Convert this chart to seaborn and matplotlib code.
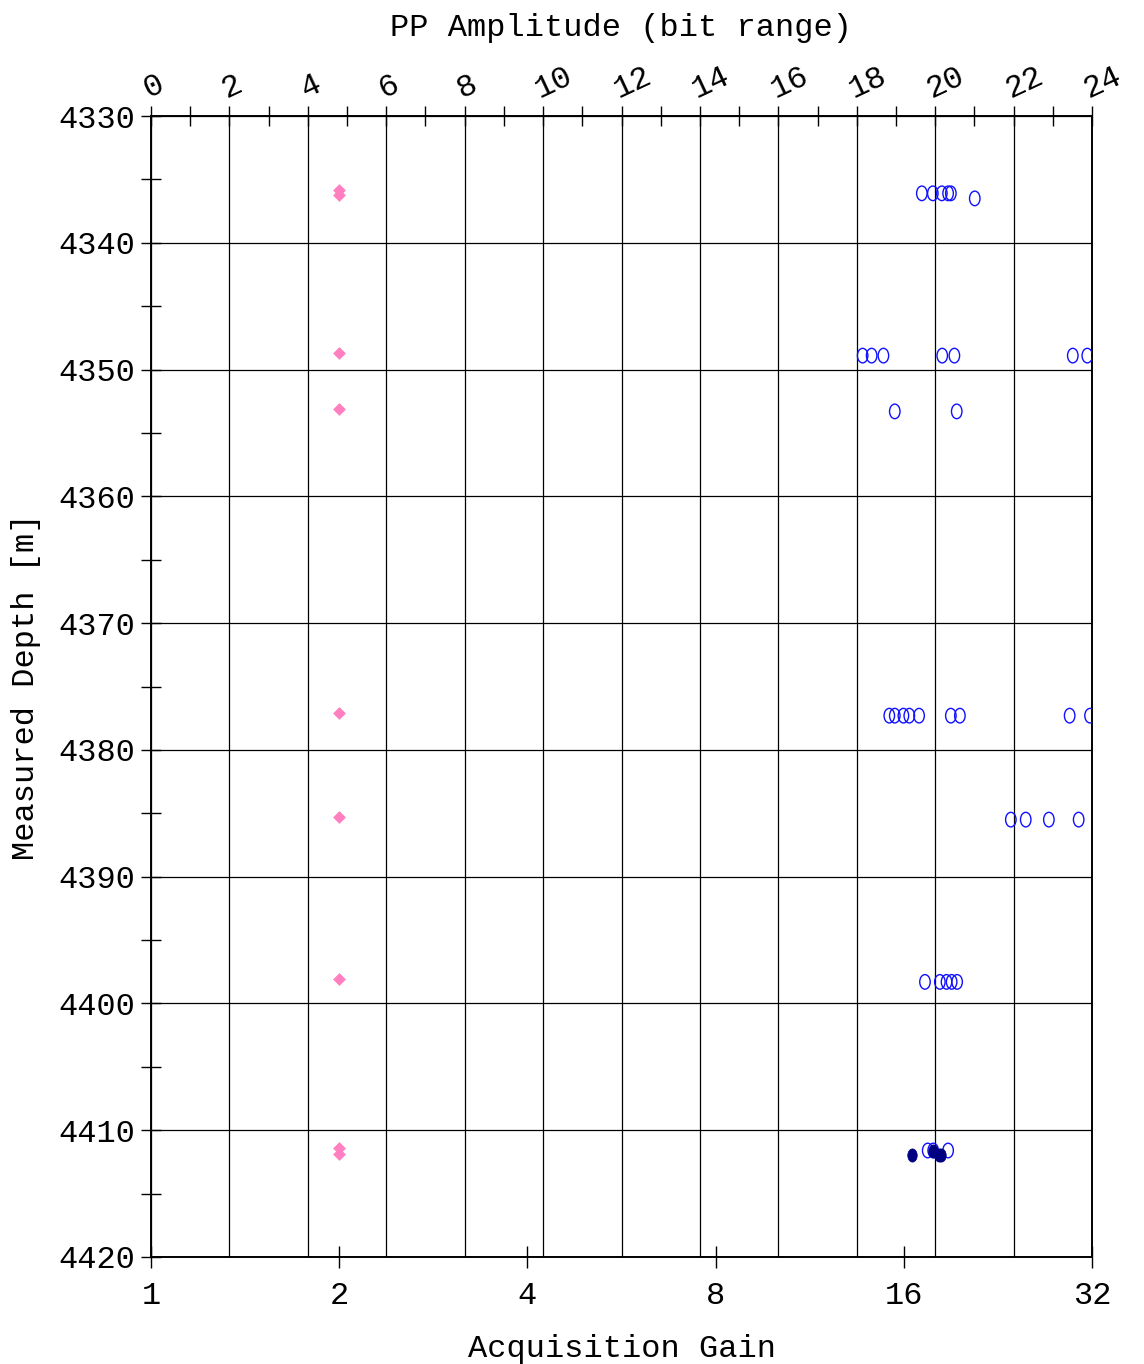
import numpy as np
import pandas as pd
import matplotlib
matplotlib.use("Agg")
import matplotlib.pyplot as plt
from matplotlib.path import Path
from matplotlib.ticker import MultipleLocator, FixedLocator, FixedFormatter
import seaborn as sns

# Acquisition gain per station (bottom axis, log2)
gain_depth = [4335.8, 4336.2, 4348.7, 4353.1, 4377.1, 4385.3, 4398.1, 4411.4, 4411.9]
gain_value = [2, 2, 2, 2, 2, 2, 2, 2, 2]

# PP amplitude of individual shots (top axis)
amp_depth = [4336.1, 4336.1, 4336.1, 4336.1, 4336.1, 4336.5,
             4348.9, 4348.9, 4348.9, 4348.9, 4348.9, 4348.9, 4348.9,
             4353.3, 4353.3,
             4377.3, 4377.3, 4377.3, 4377.3, 4377.3, 4377.3, 4377.3, 4377.3, 4377.3,
             4385.5, 4385.5, 4385.5, 4385.5,
             4398.3, 4398.3, 4398.3, 4398.3, 4398.3,
             4411.6, 4411.6, 4411.6]
amp_value = [19.66, 19.94, 20.17, 20.33, 20.40, 21.01,
             18.15, 18.38, 18.68, 20.18, 20.49, 23.51, 23.88,
             18.97, 20.55,
             18.83, 18.97, 19.19, 19.34, 19.59, 20.40, 20.63, 23.43, 23.95,
             21.93, 22.31, 22.90, 23.66,
             19.74, 20.12, 20.29, 20.42, 20.56,
             19.81, 19.95, 20.33]

# Stacked / selected amplitudes
sel_depth = [4411.95, 4411.65, 4411.95, 4411.95]
sel_value = [19.40, 19.95, 20.10, 20.15]

gain_ticks = [1, 2, 4, 8, 16, 32]
depth_ticks = list(range(4330, 4421, 10))

df_gain = pd.DataFrame({"gain": gain_value, "depth": gain_depth})
df_amp = pd.DataFrame({"amp": amp_value, "depth": amp_depth})
df_sel = pd.DataFrame({"amp": sel_value, "depth": sel_depth})

sns.set_theme(style="white")
plt.rcParams["font.family"] = ["Liberation Mono", "DejaVu Sans Mono"]
plt.rcParams["axes.edgecolor"] = "black"
plt.rcParams["axes.labelcolor"] = "black"
plt.rcParams["text.color"] = "black"
plt.rcParams["xtick.color"] = "black"
plt.rcParams["ytick.color"] = "black"
plt.rcParams["axes.linewidth"] = 1.2

# Tall ellipse marker
circ = Path.unit_circle()
ellipse = Path(circ.vertices * np.array([0.72, 1.0]), circ.codes)

fig = plt.figure(figsize=(11.44, 13.64), dpi=100)
ax = fig.add_axes([151 / 1144, 1 - 1257 / 1364, (1092 - 151) / 1144, (1257 - 116) / 1364])
ax.set_facecolor("white")

# Bottom axis: acquisition gain
sns.scatterplot(data=df_gain, x="gain", y="depth", ax=ax, marker="D", s=36,
                color="#ff7fc0", edgecolor="#ff7fc0", linewidth=0.5, zorder=3)
ax.set_xscale("log", base=2)
ax.set_xlim(1, 32)
ax.set_ylim(4420, 4330)
ax.xaxis.set_major_locator(FixedLocator(gain_ticks))
ax.xaxis.set_major_formatter(FixedFormatter([str(g) for g in gain_ticks]))
ax.xaxis.set_minor_locator(FixedLocator([]))
ax.yaxis.set_major_locator(FixedLocator(depth_ticks))
ax.yaxis.set_minor_locator(MultipleLocator(5))
ax.tick_params(axis="x", which="major", direction="inout", length=16, width=1,
               labelsize=23, pad=9, color="black", labelcolor="black", bottom=True)
ax.tick_params(axis="y", which="both", direction="inout", length=15, width=1,
               labelsize=23, pad=4, color="black", labelcolor="black", left=True)
ax.grid(True, axis="y", color="black", linewidth=0.9)
ax.grid(False, axis="x")
ax.set_xlabel("Acquisition Gain", fontsize=23, labelpad=17, color="black")
ax.set_ylabel("Measured Depth [m]", fontsize=23, labelpad=12, color="black")

# Top axis: PP amplitude
ax2 = ax.twiny()
sns.scatterplot(data=df_amp, x="amp", y="depth", ax=ax2, marker=ellipse, s=110,
                facecolors="none", edgecolor="#1010ff", linewidth=1.0, zorder=3)
sns.scatterplot(data=df_sel, x="amp", y="depth", ax=ax2, marker=ellipse, s=90,
                color="#000080", edgecolor="#000080", linewidth=0.5, zorder=4)
ax2.set_xlim(0, 24)
ax2.set_ylim(4420, 4330)
ax2.xaxis.set_major_locator(MultipleLocator(2))
ax2.xaxis.set_minor_locator(MultipleLocator(1))
ax2.tick_params(axis="x", which="both", direction="inout", length=15, width=1,
                labelsize=23, pad=1, color="black", labelcolor="black", top=True)
ax2.grid(True, axis="x", which="major", color="black", linewidth=0.9)
ax2.set_xlabel("PP Amplitude (bit range)", fontsize=23, labelpad=18, color="black")
ax2.set_ylabel("")
for lbl in ax2.get_xticklabels():
    lbl.set_rotation(25)
    lbl.set_rotation_mode("anchor")
    lbl.set_ha("left")
    lbl.set_va("bottom")

for a in (ax, ax2):
    for sp in a.spines.values():
        sp.set_color("black")
        sp.set_linewidth(1.2)

fig.savefig("out.png", dpi=100, facecolor="white")
